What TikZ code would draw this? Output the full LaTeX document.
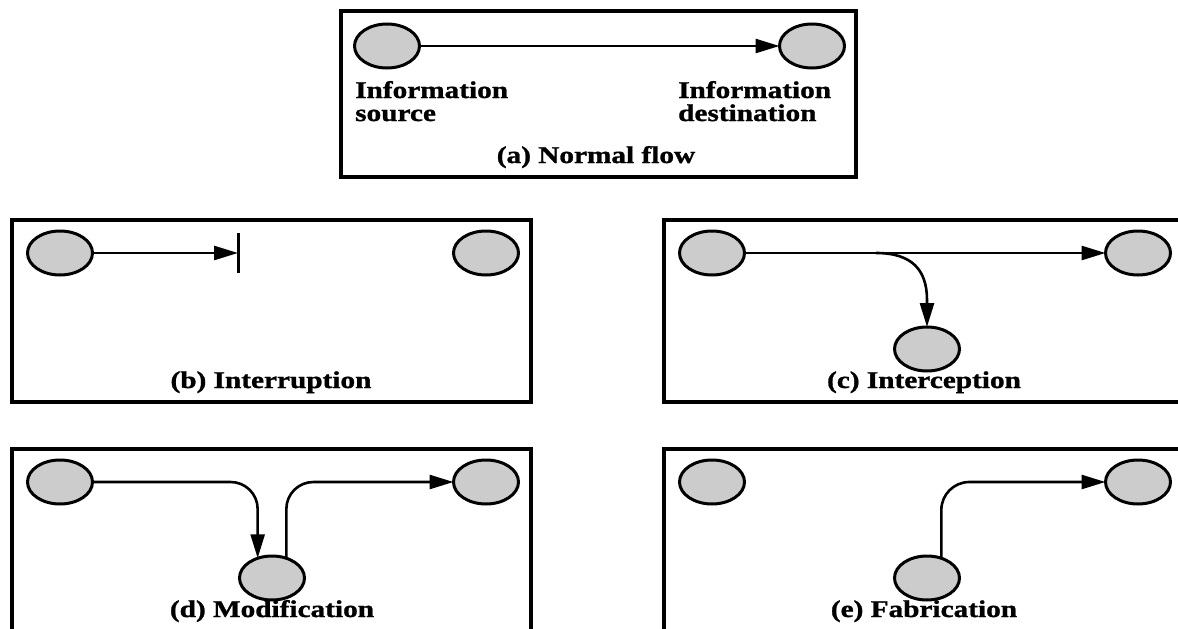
\documentclass[tikz,border=0pt]{standalone}
\usepackage{fontspec}
\newfontfamily\lblfont{Liberation Serif}[FakeStretch=1.22,FakeBold=1.2]
\usetikzlibrary{arrows.meta,shapes.geometric}

\begin{document}
\begin{tikzpicture}[x=1pt,y=-1pt,
  panel/.style={draw, line width=4.5pt},
  party/.style={ellipse, draw, line width=3pt, fill=black!20,
    minimum width=65pt, minimum height=44pt, inner sep=0pt, outer sep=0pt},
  flow/.style={line width=2.6pt, -{Triangle[length=24pt,width=14pt]}},
  cutbar/.style={line width=3pt},
  caption/.style={font=\lblfont\bfseries\fontsize{24}{23}\selectfont,
    inner sep=0pt, anchor=base},
]
\useasboundingbox (0,0) rectangle (1178,629);
\clip (0,0) rectangle (1178,629);

% (a) normal flow
\draw[panel] (341,11) rectangle (856,177);
\node[party] (asrc) at (387,46) {};
\node[party] (adst) at (812,46) {};
\draw[flow] (asrc) -- (adst);
\node[caption, anchor=base west, align=left] (asrclbl) at (355,121) {Information\\source};
\node[caption, anchor=base west, align=left] (adstlbl) at (678,121) {Information\\destination};
\node[caption] (albl) at (596,163) {(a) Normal flow};

% (b) interruption
\draw[panel] (12,220) rectangle (531,402);
\node[party] (bsrc) at (60,253) {};
\node[party] (bdst) at (486,253) {};
\coordinate (bcut) at (238,253);
\draw[flow] (bsrc) -- (bcut);
\draw[cutbar] ([yshift=20pt]bcut) -- ([yshift=-20pt]bcut);
\node[caption] (blbl) at (271,388) {(b) Interruption};

% (c) interception
\draw[panel] (664,220) rectangle (1183,402);
\node[party] (csrc) at (712,253) {};
\node[party] (cdst) at (1138,253) {};
\node[party] (cspy) at (927,349) {};
\draw[flow] (csrc) -- (cdst);
\coordinate (cfork) at (876,253);
\coordinate (cbend) at (927,300);
\draw[flow] (cfork) .. controls +(36,0) and +(0,-30) .. (cbend) -- (cspy.north);
\node[caption] (clbl) at (924,388) {(c) Interception};

% (d) modification
\draw[panel] (12,449) rectangle (531,631);
\node[party] (dsrc) at (60,482) {};
\node[party] (ddst) at (486,482) {};
\node[party] (dmid) at (272,578) {};
\draw[flow, rounded corners=27pt] (dsrc.east) -| (dmid.126);
\draw[flow, rounded corners=27pt] (dmid.54) |- (ddst.west);
\node[caption] (dlbl) at (272,617) {(d) Modification};

% (e) fabrication
\draw[panel] (664,449) rectangle (1183,631);
\node[party] (esrc) at (712,482) {};
\node[party] (edst) at (1138,482) {};
\node[party] (efake) at (927,578) {};
\draw[flow, rounded corners=28pt] (efake.54) |- (edst.west);
\node[caption] (elbl) at (924,617) {(e) Fabrication};
\end{tikzpicture}
\end{document}
